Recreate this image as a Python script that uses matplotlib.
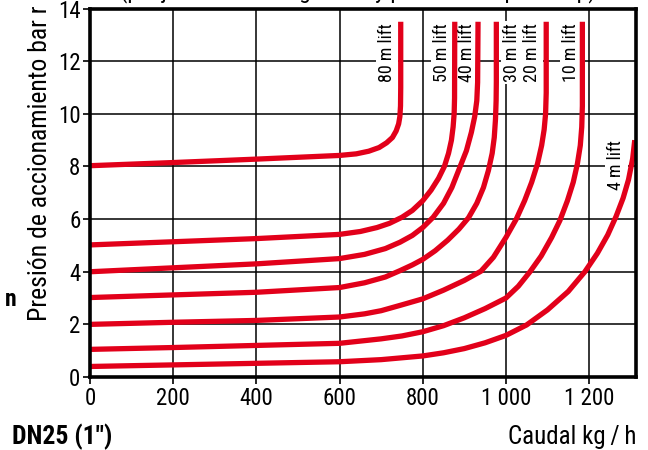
import matplotlib
matplotlib.use("Agg")
import matplotlib.pyplot as plt
from matplotlib import font_manager

# pick a narrow face if one is installed, otherwise Liberation Sans
_names = {f.name for f in font_manager.fontManager.ttflist}
_narrow = None
for cand in ['Liberation Sans Narrow', 'Arial Narrow', 'Roboto Condensed', 'Open Sans Condensed',
             'Noto Sans Condensed', 'Nimbus Sans Narrow']:
    if cand in _names:
        _narrow = cand
        break
if _narrow:
    plt.rcParams['font.family'] = [_narrow, 'Liberation Sans', 'DejaVu Sans']
else:
    plt.rcParams['font.family'] = ['Liberation Sans', 'DejaVu Sans']

# ---- data ----
x_ticks = [0, 200, 400, 600, 800, 1000, 1200]
x_tick_labels = ["0", "200", "400", "600", "800", "1 000", "1 200"]
y_ticks = [0, 2, 4, 6, 8, 10, 12, 14]
y_tick_labels = ["0", "2", "4", "6", "8", "10", "12", "14"]

lift_labels = ["80 m lift", "50 m lift", "40 m lift", "30 m lift", "20 m lift", "10 m lift", "4 m lift"]

c80_x = [0, 200, 400, 600, 640, 670, 695, 713, 727, 736, 742, 745, 746.5, 747, 747]
c80_y = [8.03, 8.15, 8.28, 8.42, 8.48, 8.58, 8.72, 8.9, 9.1, 9.35, 9.62, 9.9, 10.3, 11.0, 13.5]

c50_x = [0, 200, 400, 600, 650, 690, 720, 750, 775, 800, 820, 838, 852, 862, 869, 873, 875.5, 876.5, 877]
c50_y = [5.02, 5.14, 5.26, 5.42, 5.53, 5.68, 5.84, 6.07, 6.33, 6.7, 7.1, 7.55, 8.0, 8.5, 9.0, 9.5, 10.0, 10.6, 13.5]

c40_x = [0, 200, 400, 600, 660, 710, 745, 775, 800, 825, 850, 870, 890, 905, 917, 925, 930, 932, 933]
c40_y = [4.0, 4.15, 4.3, 4.5, 4.66, 4.88, 5.12, 5.38, 5.68, 6.07, 6.6, 7.2, 8.0, 8.6, 9.3, 9.9, 10.5, 11.2, 13.5]

c30_x = [0, 200, 400, 600, 660, 710, 745, 775, 800, 830, 860, 887, 910, 930, 946, 958, 967, 972, 975, 976.5, 977, 977]
c30_y = [3.02, 3.12, 3.22, 3.4, 3.58, 3.8, 4.04, 4.26, 4.47, 4.8, 5.2, 5.62, 6.05, 6.6, 7.2, 7.85, 8.5, 9.1, 9.8, 10.5, 11.2, 13.5]

c20_x = [0, 200, 400, 600, 660, 700, 745, 800, 850, 900, 940, 970, 1000, 1025, 1045, 1062, 1076, 1086, 1092, 1095.5, 1097, 1097]
c20_y = [2.0, 2.08, 2.15, 2.28, 2.4, 2.52, 2.72, 2.97, 3.3, 3.67, 4.02, 4.55, 5.3, 6.0, 6.7, 7.4, 8.1, 8.8, 9.4, 10.0, 10.8, 13.5]

c10_x = [0, 200, 400, 600, 700, 750, 800, 850, 900, 950, 1000, 1030, 1058, 1085, 1110, 1130, 1148, 1162, 1172, 1179, 1182.5, 1184, 1184]
c10_y = [1.05, 1.12, 1.2, 1.28, 1.45, 1.56, 1.72, 1.95, 2.25, 2.6, 3.0, 3.45, 4.0, 4.6, 5.3, 5.95, 6.7, 7.4, 8.1, 8.8, 9.5, 10.3, 13.5]

c4_x = [0, 200, 400, 600, 700, 800, 850, 900, 950, 1000, 1050, 1100, 1150, 1190, 1220, 1245, 1265, 1282, 1295, 1305, 1310]
c4_y = [0.4, 0.46, 0.52, 0.58, 0.66, 0.8, 0.92, 1.08, 1.3, 1.58, 1.98, 2.55, 3.25, 4.0, 4.7, 5.4, 6.1, 6.8, 7.5, 8.3, 9.0]

curves_x = [c80_x, c50_x, c40_x, c30_x, c20_x, c10_x, c4_x]
curves_y = [c80_y, c50_y, c40_y, c30_y, c20_y, c10_y, c4_y]

label_x = [714, 847, 906, 1014, 1062, 1157, 1266]
label_top = [13.46, 13.46, 13.46, 13.46, 13.46, 13.46, 9.0]

RED = "#E2001A"

fig = plt.figure(figsize=(6.48, 4.5), dpi=100)
ax = fig.add_axes([90.2 / 648, 1 - 377 / 450, (636 - 90.2) / 648, (377 - 8.6) / 450])
ax.set_xlim(0, 1313)
ax.set_ylim(0, 14)

ax.set_xticks(x_ticks)
ax.set_xticklabels(x_tick_labels)
ax.set_yticks(y_ticks)
ax.set_yticklabels(y_tick_labels)
ax.tick_params(axis='both', labelsize=16.5, length=5, width=1.2, direction='out', pad=2, colors='black')

ax.grid(True, color='black', linewidth=1.1, zorder=1)
ax.set_axisbelow(True)
for s in ax.spines.values():
    s.set_linewidth(2.6)
    s.set_color('black')
    s.set_zorder(5)

for cx, cy in zip(curves_x, curves_y):
    ax.plot(cx, cy, color=RED, linewidth=3.8, solid_capstyle='butt', solid_joinstyle='round', zorder=4)

for lab, lx, ly in zip(lift_labels, label_x, label_top):
    ax.text(lx, ly, lab, rotation=90, ha='center', va='top', fontsize=13, zorder=3,
            bbox=dict(facecolor='white', edgecolor='none', pad=1.5))

fig.text(40 / 648, 1 - 321 / 450, "Presión de accionamiento bar r", rotation=90,
         ha='center', va='bottom', fontsize=18.5)
fig.text(17 / 648, 1 - 300 / 450, "n", ha='right', va='center', fontsize=17, fontweight='bold')
fig.text(12 / 648, 1 - 437 / 450, 'DN25 (1")', ha='left', va='center', fontsize=18.5, fontweight='bold')
fig.text(637 / 648, 1 - 437 / 450, 'Caudal kg\u2009/\u2009h', ha='right', va='center', fontsize=18)
fig.text(358 / 648, 1 + 3 / 450, "(p. ej. válvula de seguridad y presión de apertura p)",
         ha='center', va='baseline', fontsize=17)

fig.savefig("out.png", dpi=100)
